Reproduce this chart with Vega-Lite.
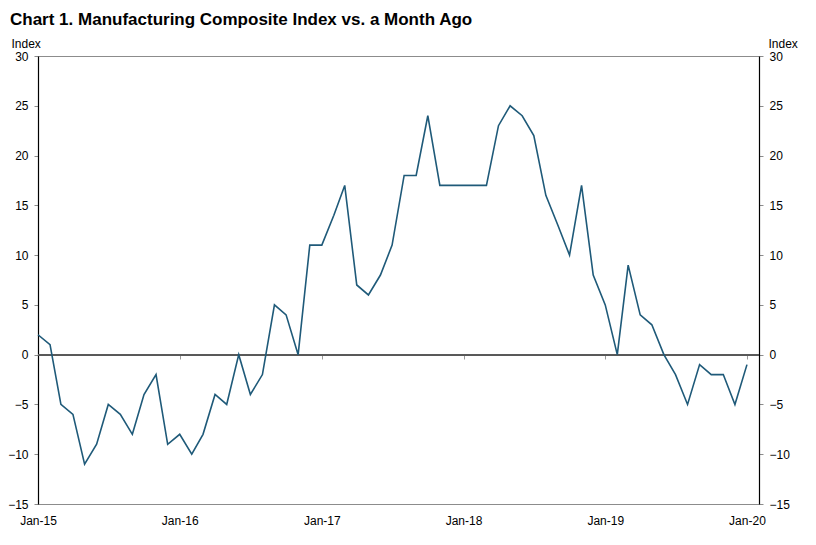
{
  "$schema": "https://vega.github.io/schema/vega-lite/v6.json",
  "width": 721,
  "height": 448,
  "autosize": "none",
  "padding": {"left": 38, "top": 56, "right": 57, "bottom": 41},
  "background": "white",
  "config": {
    "view": {"stroke": "#8c8c8c", "strokeWidth": 1},
    "font": "Liberation Sans, Arial"
  },
  "title": {
    "text": "Chart 1. Manufacturing Composite Index vs. a Month Ago",
    "anchor": "start",
    "frame": "group",
    "font": "Liberation Sans, Arial",
    "fontSize": 17,
    "fontWeight": "bold",
    "color": "#000000",
    "dx": -28,
    "dy": 20,
    "offset": 28
  },
  "data": {
    "values": [
      {"date": "2015-01-01", "value": 2},
      {"date": "2015-02-01", "value": 1},
      {"date": "2015-03-01", "value": -5},
      {"date": "2015-04-01", "value": -6},
      {"date": "2015-05-01", "value": -11},
      {"date": "2015-06-01", "value": -9},
      {"date": "2015-07-01", "value": -5},
      {"date": "2015-08-01", "value": -6},
      {"date": "2015-09-01", "value": -8},
      {"date": "2015-10-01", "value": -4},
      {"date": "2015-11-01", "value": -2},
      {"date": "2015-12-01", "value": -9},
      {"date": "2016-01-01", "value": -8},
      {"date": "2016-02-01", "value": -10},
      {"date": "2016-03-01", "value": -8},
      {"date": "2016-04-01", "value": -4},
      {"date": "2016-05-01", "value": -5},
      {"date": "2016-06-01", "value": 0},
      {"date": "2016-07-01", "value": -4},
      {"date": "2016-08-01", "value": -2},
      {"date": "2016-09-01", "value": 5},
      {"date": "2016-10-01", "value": 4},
      {"date": "2016-11-01", "value": 0},
      {"date": "2016-12-01", "value": 11},
      {"date": "2017-01-01", "value": 11},
      {"date": "2017-02-01", "value": 14},
      {"date": "2017-03-01", "value": 17},
      {"date": "2017-04-01", "value": 7},
      {"date": "2017-05-01", "value": 6},
      {"date": "2017-06-01", "value": 8},
      {"date": "2017-07-01", "value": 11},
      {"date": "2017-08-01", "value": 18},
      {"date": "2017-09-01", "value": 18},
      {"date": "2017-10-01", "value": 24},
      {"date": "2017-11-01", "value": 17},
      {"date": "2017-12-01", "value": 17},
      {"date": "2018-01-01", "value": 17},
      {"date": "2018-02-01", "value": 17},
      {"date": "2018-03-01", "value": 17},
      {"date": "2018-04-01", "value": 23},
      {"date": "2018-05-01", "value": 25},
      {"date": "2018-06-01", "value": 24},
      {"date": "2018-07-01", "value": 22},
      {"date": "2018-08-01", "value": 16},
      {"date": "2018-09-01", "value": 13},
      {"date": "2018-10-01", "value": 10},
      {"date": "2018-11-01", "value": 17},
      {"date": "2018-12-01", "value": 8},
      {"date": "2019-01-01", "value": 5},
      {"date": "2019-02-01", "value": 0},
      {"date": "2019-03-01", "value": 9},
      {"date": "2019-04-01", "value": 4},
      {"date": "2019-05-01", "value": 3},
      {"date": "2019-06-01", "value": 0},
      {"date": "2019-07-01", "value": -2},
      {"date": "2019-08-01", "value": -5},
      {"date": "2019-09-01", "value": -1},
      {"date": "2019-10-01", "value": -2},
      {"date": "2019-11-01", "value": -2},
      {"date": "2019-12-01", "value": -5},
      {"date": "2020-01-01", "value": -1}
    ]
  },
  "layer": [
    {
      "mark": {"type": "rule", "color": "#5a5a5a", "strokeWidth": 1.2},
      "encoding": {
        "y": {"datum": 0, "type": "quantitative", "axis": null}
      }
    },
    {
      "mark": {"type": "line", "color": "#1f5a79", "strokeWidth": 1.6},
      "encoding": {
        "x": {
          "field": "date",
          "type": "temporal",
          "scale": {"type": "utc", "domain": [{"year": 2015, "month": 1, "date": 1, "utc": true}, {"year": 2020, "month": 2, "date": 1, "utc": true}]},
          "axis": {
            "title": null,
            "values": [
              {"year": 2015, "month": 1, "date": 1, "utc": true},
              {"year": 2016, "month": 1, "date": 1, "utc": true},
              {"year": 2017, "month": 1, "date": 1, "utc": true},
              {"year": 2018, "month": 1, "date": 1, "utc": true},
              {"year": 2019, "month": 1, "date": 1, "utc": true},
              {"year": 2020, "month": 1, "date": 1, "utc": true}
            ],
            "labelExpr": "utcFormat(datum.value, '%b-%y')",
            "labelFont": "Liberation Sans, Arial",
            "labelFontSize": 12,
            "labelColor": "#000000",
            "labelPadding": 11,
            "labelFlush": false,
            "labelOverlap": false,
            "ticks": false,
            "domain": true,
            "domainColor": "#8c8c8c",
            "grid": false
          }
        },
        "y": {
          "field": "value",
          "type": "quantitative",
          "scale": {"domain": [-15, 30], "nice": false, "zero": false},
          "axis": {
            "title": "Index",
            "titleAngle": 0,
            "titleAlign": "left",
            "titleBaseline": "alphabetic",
            "titleX": -27,
            "titleY": -9,
            "titleFont": "Liberation Sans, Arial",
            "titleFontSize": 12,
            "titleFontWeight": "normal",
            "titleColor": "#000000",
            "values": [-15, -10, -5, 0, 5, 10, 15, 20, 25, 30],
            "labelFont": "Liberation Sans, Arial",
            "labelFontSize": 12,
            "labelColor": "#000000",
            "labelPadding": 6,
            "tickSize": 4,
            "tickColor": "#8c8c8c",
            "domainColor": "#000000",
            "domainWidth": 1.2,
            "grid": false
          }
        }
      }
    },
    {
      "mark": {"type": "line", "strokeOpacity": 0},
      "encoding": {
        "x": {
          "field": "date",
          "type": "temporal",
          "axis": {
            "title": null,
            "orient": "bottom",
            "offset": -149,
            "values": [
              {"year": 2016, "month": 1, "date": 1, "utc": true},
              {"year": 2017, "month": 1, "date": 1, "utc": true},
              {"year": 2018, "month": 1, "date": 1, "utc": true},
              {"year": 2019, "month": 1, "date": 1, "utc": true},
              {"year": 2020, "month": 1, "date": 1, "utc": true}
            ],
            "labels": false,
            "domain": false,
            "ticks": true,
            "tickSize": 4,
            "tickColor": "#9a9a9a",
            "grid": false
          }
        },
        "y": {
          "field": "value",
          "type": "quantitative",
          "axis": {
            "orient": "right",
            "title": "Index",
            "titleAngle": 0,
            "titleAlign": "left",
            "titleBaseline": "alphabetic",
            "titleX": 9,
            "titleY": -9,
            "titleFont": "Liberation Sans, Arial",
            "titleFontSize": 12,
            "titleFontWeight": "normal",
            "titleColor": "#000000",
            "values": [-15, -10, -5, 0, 5, 10, 15, 20, 25, 30],
            "labelFont": "Liberation Sans, Arial",
            "labelFontSize": 12,
            "labelColor": "#000000",
            "labelPadding": 6,
            "tickSize": 4,
            "tickColor": "#8c8c8c",
            "domainColor": "#000000",
            "domainWidth": 1.2,
            "grid": false
          }
        }
      }
    }
  ],
  "resolve": {"axis": {"x": "independent", "y": "independent"}}
}
